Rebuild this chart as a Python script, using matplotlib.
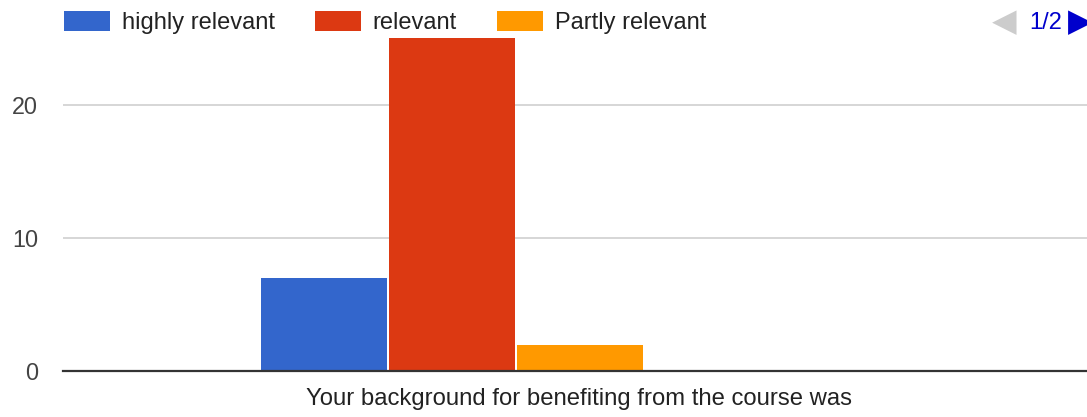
"""Survey bar chart: background for benefiting from the course."""

import matplotlib
matplotlib.use("Agg")
import matplotlib.pyplot as plt

categories = ["highly relevant", "relevant", "Partly relevant"]
counts = [7, 25, 2]
colors = ["#3366CC", "#DC3912", "#FF9900"]
positions = [-1, 0, 1]
yticks = [0, 10, 20]
question = "Your background for benefiting from the course was"


def main() -> None:
    plt.rcParams.update(
        {
            "font.family": ["Liberation Sans", "DejaVu Sans"],
            "figure.facecolor": "white",
            "axes.facecolor": "white",
        }
    )
    W, H = 1087, 417
    fig = plt.figure(figsize=(W / 100, H / 100), dpi=100)
    ax = fig.add_axes([63 / W, (H - 371.3) / H, 1 - 63 / W, (371.3 - 38) / H])

    for x, n, c, lab in zip(positions, counts, colors, categories):
        ax.bar(x, n, width=0.98, color=c, label=lab, zorder=3)

    ax.set_xlim((63 - 452) / 128, (1087 - 452) / 128)
    ax.set_ylim(0, 25)
    ax.set_yticks(yticks)
    ax.set_xticks([])
    ax.tick_params(axis="y", length=0, pad=18, labelsize=16.8, labelcolor="#444444")
    ax.yaxis.grid(True, color="#CCCCCC", linewidth=1.1)
    ax.set_axisbelow(True)
    for side in ["top", "right", "left"]:
        ax.spines[side].set_visible(False)
    ax.spines["bottom"].set_color("#333333")
    ax.spines["bottom"].set_linewidth(1.6)
    ax.spines["bottom"].set_zorder(4)
    ax.set_xlabel(question, fontsize=17.2, color="#222222")
    ax.xaxis.set_label_coords(0.504, -28 / 417 / 0.799, transform=ax.transAxes)
    ax.xaxis.label.set_va("center")

    fig.legend(
        loc="upper left",
        bbox_to_anchor=(64 / W, 1 - 11 / H),
        ncol=3,
        frameon=False,
        fontsize=17,
        handlelength=1.95,
        handleheight=0.95,
        handletextpad=0.5,
        columnspacing=1.7,
        borderpad=0,
        borderaxespad=0,
        labelcolor="#222222",
    )

    fig.text(992 / W, 1 - 23 / H, "\u25C0", color="#CCCCCC", fontsize=23,
             va="center", ha="left", family="DejaVu Sans")
    fig.text(1029 / W, 1 - 23 / H, "1/2", color="#0000CC", fontsize=17,
             va="center", ha="left")
    fig.text(1068 / W, 1 - 23 / H, "\u25B6", color="#0000CC", fontsize=23,
             va="center", ha="left", family="DejaVu Sans")

    fig.savefig("out.png", dpi=100)


if __name__ == "__main__":
    main()
